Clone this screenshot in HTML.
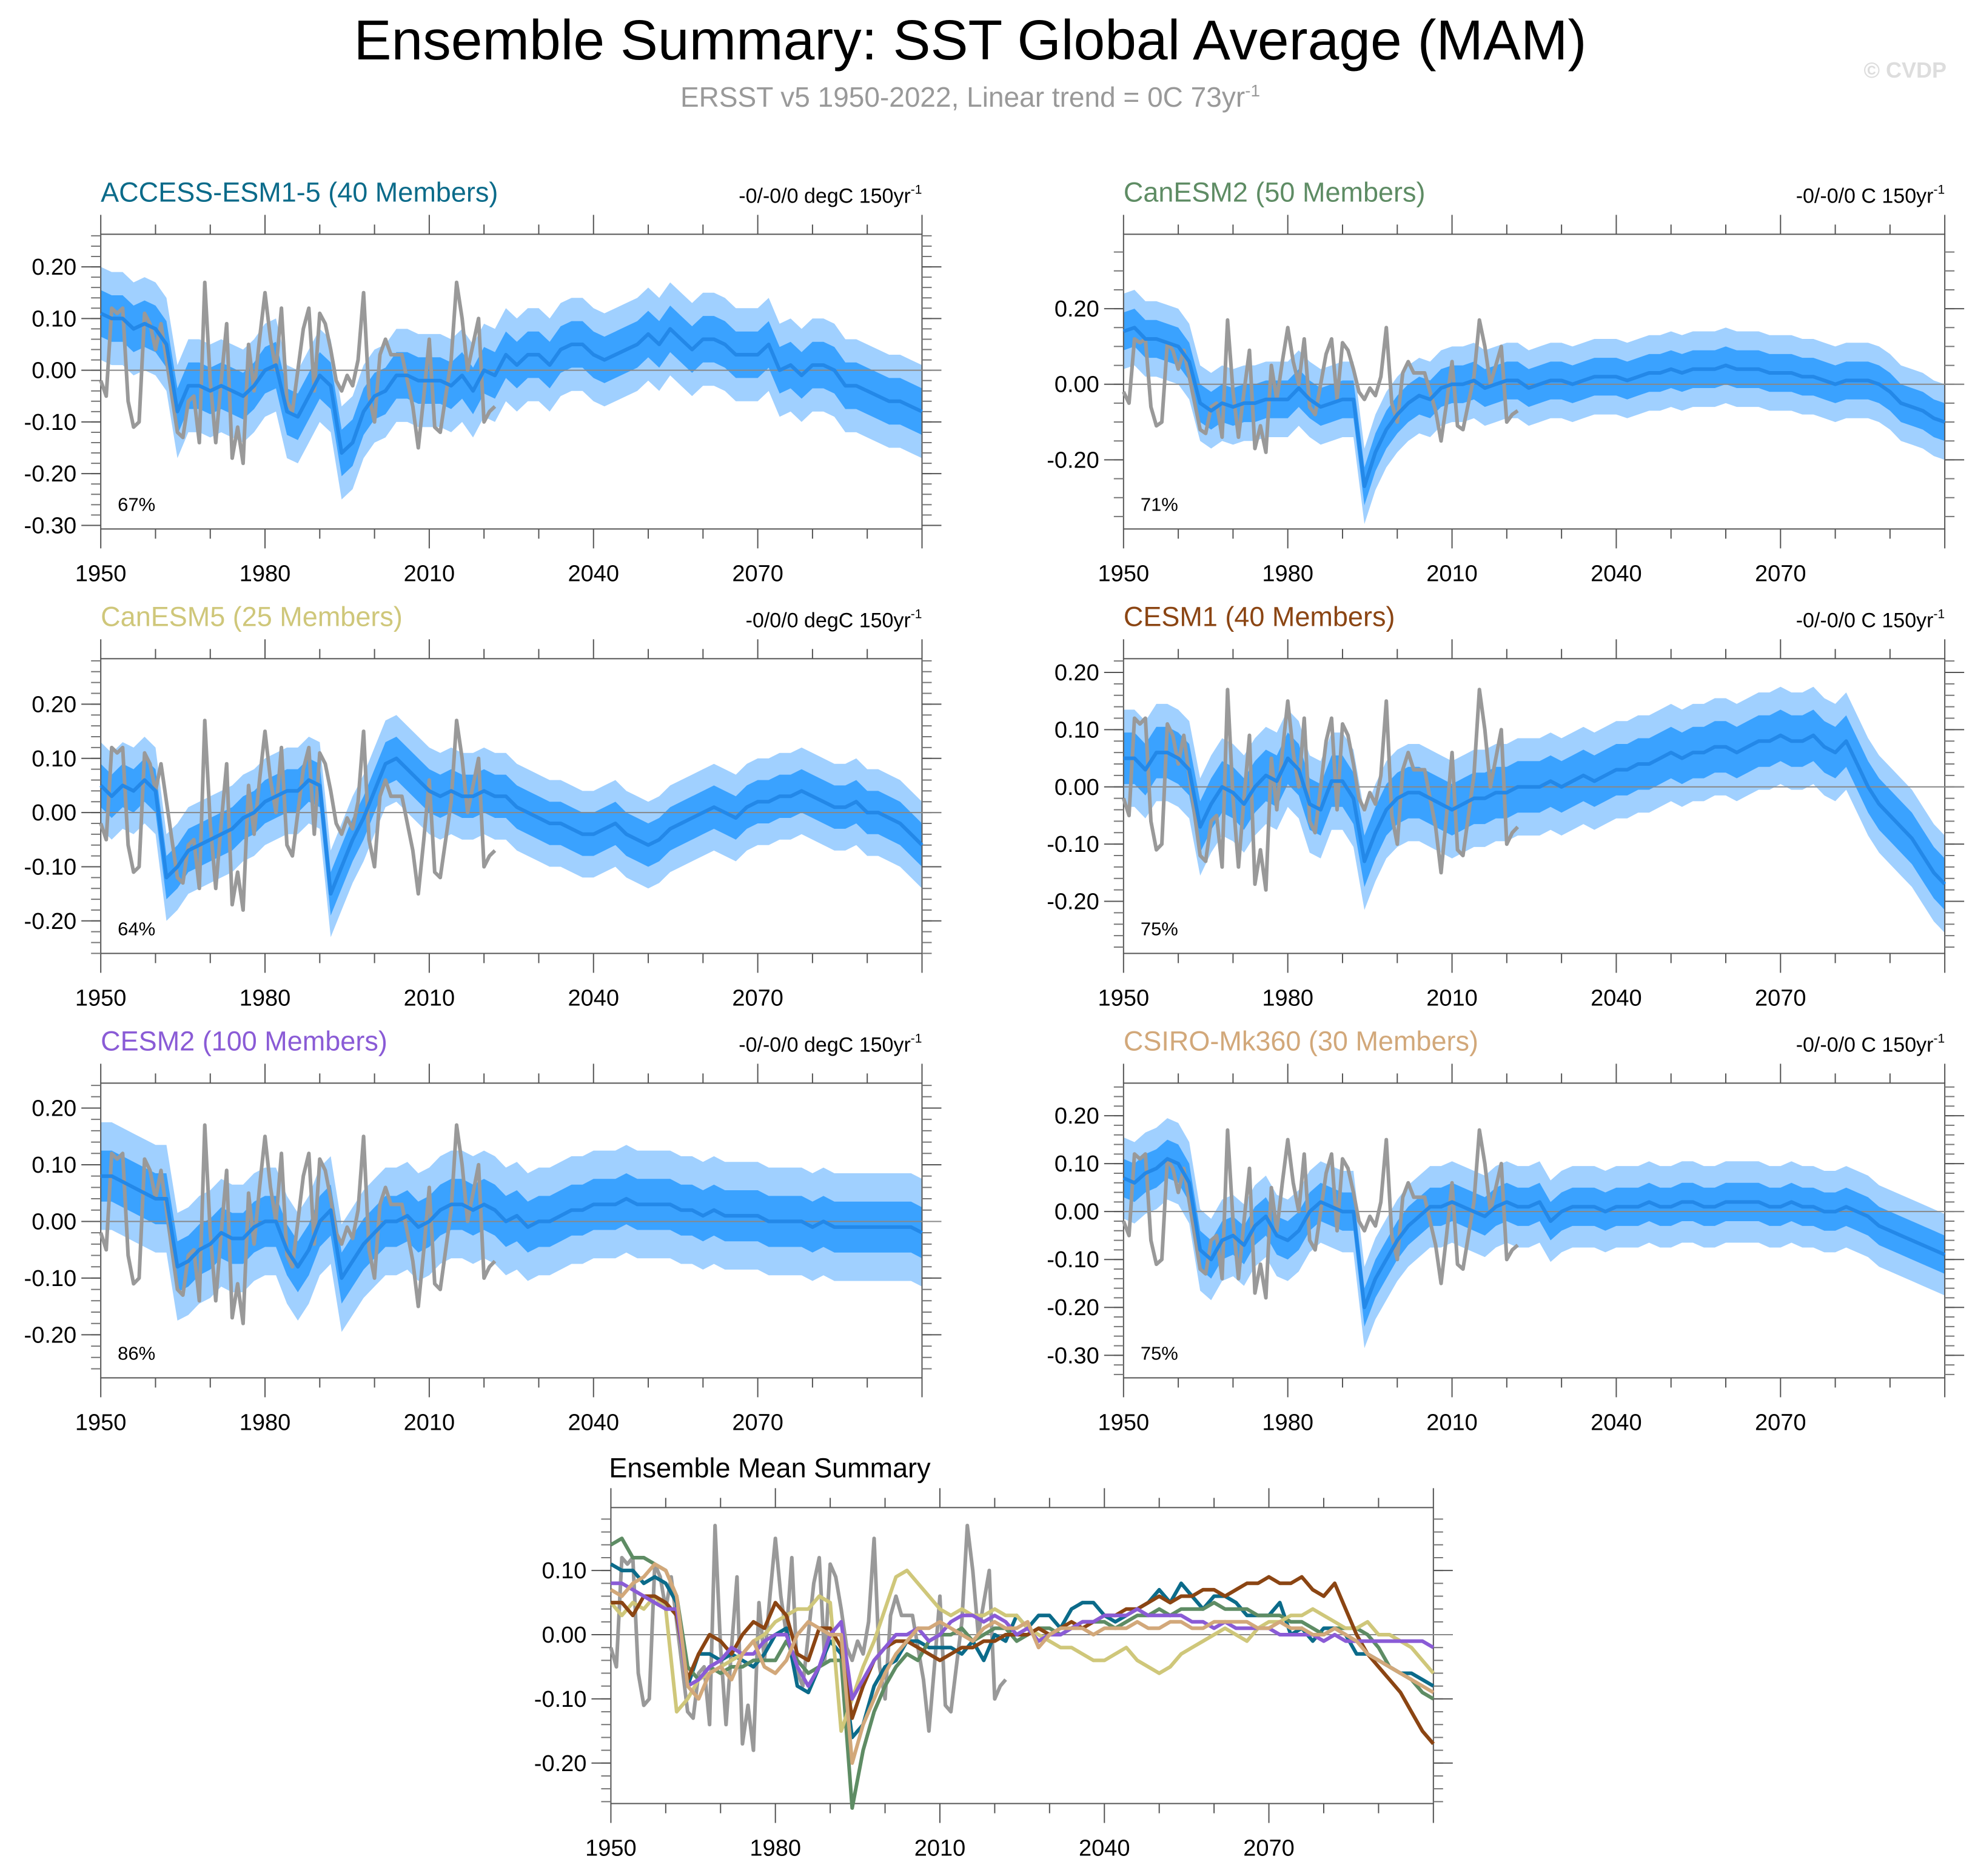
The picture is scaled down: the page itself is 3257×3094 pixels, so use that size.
<!DOCTYPE html>
<html><head><meta charset="utf-8"><style>
html,body{margin:0;padding:0;background:#fff;}
svg{display:block;font-family:"Liberation Sans",sans-serif;}
</style></head><body>
<svg id="chart" width="3257" height="3094" viewBox="0 0 3257 3094" xmlns="http://www.w3.org/2000/svg">
<text x="1600" y="98" font-size="93" text-anchor="middle" fill="#000">Ensemble Summary: SST Global Average (MAM)</text>
<text x="1600" y="176" font-size="46" text-anchor="middle" fill="#999">ERSST v5 1950-2022, Linear trend = 0C 73yr<tspan dy="-17" font-size="28">-1</tspan></text>
<text x="3210" y="128" font-size="36" font-weight="bold" text-anchor="end" fill="#ddd">© CVDP</text>
<g id="plots"></g>
</svg>
<script>
const years0 = 1950, years1 = 2100;
const obsValues = [-0.02,-0.05,0.12,0.11,0.12,-0.06,-0.11,-0.10,0.11,0.09,0.04,0.09,0.02,-0.05,-0.12,-0.13,-0.06,-0.05,-0.14,0.17,-0.02,-0.14,-0.02,0.09,-0.17,-0.11,-0.18,0.05,-0.04,0.06,0.15,0.06,0.00,0.12,-0.06,-0.08,0.00,0.08,0.12,-0.04,0.11,0.09,0.04,-0.02,-0.04,-0.01,-0.03,0.02,0.15,-0.05,-0.10,0.03,0.06,0.03,0.03,0.03,-0.02,-0.07,-0.15,-0.05,0.06,-0.11,-0.12,-0.05,0.02,0.17,0.10,0.00,0.05,0.10,-0.10,-0.08,-0.07];
const meanAccess = [0.11,0.10,0.10,0.08,0.09,0.08,0.05,-0.08,-0.03,-0.03,-0.04,-0.03,-0.04,-0.05,-0.03,0.00,0.01,-0.08,-0.09,-0.05,-0.01,-0.03,-0.16,-0.14,-0.08,-0.05,-0.04,-0.01,-0.01,-0.02,-0.02,-0.02,-0.03,-0.01,-0.04,0.00,-0.01,0.03,0.01,0.03,0.03,0.01,0.04,0.05,0.05,0.03,0.02,0.03,0.04,0.05,0.07,0.05,0.08,0.06,0.04,0.06,0.06,0.05,0.03,0.03,0.03,0.05,0.00,0.01,-0.01,0.01,0.01,0.00,-0.03,-0.03,-0.04,-0.05,-0.06,-0.06,-0.07,-0.08];
const meanCanESM2 = [0.14,0.15,0.12,0.12,0.11,0.10,0.06,-0.05,-0.07,-0.05,-0.06,-0.05,-0.05,-0.04,-0.04,-0.04,-0.01,-0.04,-0.06,-0.05,-0.04,-0.04,-0.27,-0.18,-0.12,-0.08,-0.05,-0.03,-0.04,-0.01,0.00,0.00,0.01,-0.01,0.00,0.01,0.01,-0.01,0.00,0.01,0.01,0.00,0.01,0.02,0.02,0.02,0.01,0.02,0.03,0.03,0.04,0.03,0.04,0.04,0.04,0.05,0.04,0.04,0.04,0.03,0.03,0.03,0.02,0.02,0.01,0.00,0.01,0.01,0.01,0.00,-0.02,-0.05,-0.06,-0.07,-0.09,-0.10];
const meanCanESM5 = [0.05,0.03,0.05,0.04,0.06,0.04,-0.12,-0.10,-0.07,-0.06,-0.05,-0.04,-0.03,-0.01,0.00,0.02,0.03,0.04,0.04,0.06,0.05,-0.15,-0.10,-0.05,-0.01,0.04,0.09,0.10,0.08,0.06,0.04,0.03,0.04,0.03,0.03,0.04,0.03,0.03,0.01,0.00,-0.01,-0.02,-0.02,-0.03,-0.04,-0.04,-0.03,-0.02,-0.04,-0.05,-0.06,-0.05,-0.03,-0.02,-0.01,0.00,0.01,0.00,-0.01,0.01,0.02,0.02,0.03,0.03,0.04,0.03,0.02,0.01,0.01,0.02,0.00,0.00,-0.01,-0.02,-0.04,-0.06];
const meanCESM1 = [0.05,0.05,0.03,0.06,0.06,0.05,0.03,-0.07,-0.03,0.00,-0.01,-0.03,0.00,0.02,0.01,0.05,0.03,-0.03,-0.04,0.01,0.01,-0.02,-0.13,-0.08,-0.04,-0.02,-0.01,-0.01,-0.02,-0.03,-0.04,-0.03,-0.02,-0.02,-0.01,-0.01,0.00,0.00,0.00,0.01,0.00,0.01,0.02,0.01,0.02,0.03,0.03,0.04,0.04,0.05,0.06,0.05,0.06,0.06,0.07,0.07,0.06,0.07,0.08,0.08,0.09,0.08,0.08,0.09,0.07,0.06,0.08,0.04,0.00,-0.03,-0.05,-0.07,-0.09,-0.12,-0.15,-0.17];
const meanCESM2 = [0.08,0.08,0.07,0.06,0.05,0.04,0.04,-0.08,-0.07,-0.05,-0.04,-0.02,-0.03,-0.03,-0.01,0.00,0.00,-0.05,-0.08,-0.05,0.00,0.02,-0.10,-0.07,-0.04,-0.02,0.00,0.00,0.01,-0.01,0.00,0.02,0.03,0.03,0.02,0.03,0.02,0.00,0.01,-0.01,0.00,0.00,0.01,0.02,0.02,0.03,0.03,0.03,0.04,0.03,0.03,0.03,0.03,0.02,0.02,0.01,0.02,0.01,0.01,0.01,0.01,0.00,0.00,0.00,0.00,-0.01,0.00,-0.01,-0.01,-0.01,-0.01,-0.01,-0.01,-0.01,-0.01,-0.02];
const meanCSIRO = [0.07,0.06,0.08,0.09,0.11,0.10,0.06,-0.08,-0.10,-0.06,-0.05,-0.07,-0.03,-0.01,-0.05,-0.06,-0.04,0.00,0.02,0.01,0.00,0.00,-0.20,-0.14,-0.10,-0.06,-0.03,-0.01,0.01,0.01,0.02,0.01,0.00,-0.01,0.01,0.02,0.01,0.01,0.02,-0.02,0.00,0.01,0.01,0.01,0.00,0.01,0.01,0.01,0.02,0.01,0.01,0.02,0.02,0.01,0.01,0.02,0.02,0.02,0.02,0.01,0.01,0.02,0.01,0.01,0.00,0.00,0.01,0.00,-0.01,-0.03,-0.04,-0.05,-0.06,-0.07,-0.08,-0.09];
const innerSpread = [0.045,0.05,0.04,0.045,0.045,0.04];
const outerSpread = [0.09,0.10,0.08,0.085,0.095,0.085];
const modelNames = ["ACCESS-ESM1-5 (40 Members)","CanESM2 (50 Members)","CanESM5 (25 Members)","CESM1 (40 Members)","CESM2 (100 Members)","CSIRO-Mk360 (30 Members)"];
const modelColors = ["#0b6b8a","#5e8c64","#cfc77a","#8b4513","#8a5bd6","#d2a87a"];
const trendLabels = ["-0/-0/0 degC 150yr","-0/-0/0 C 150yr","-0/0/0 degC 150yr","-0/-0/0 C 150yr","-0/-0/0 degC 150yr","-0/-0/0 C 150yr"];
const pctLabels = ["67%","71%","64%","75%","86%","75%"];
const yTickLabels = [[0.2,0.1,0,-0.1,-0.2,-0.3],[0.2,0,-0.2],[0.2,0.1,0,-0.1,-0.2],[0.2,0.1,0,-0.1,-0.2],[0.2,0.1,0,-0.1,-0.2],[0.2,0.1,0,-0.1,-0.2,-0.3]];
const yRanges = [[-0.307,0.263],[-0.383,0.397],[-0.26,0.284],[-0.291,0.224],[-0.276,0.244],[-0.347,0.268]];
const xTickYears = [1950,1980,2010,2040,2070];
const means = [meanAccess,meanCanESM2,meanCanESM5,meanCESM1,meanCESM2,meanCSIRO];

const S = 3257/1568;
const NS = "http://www.w3.org/2000/svg";
const root = document.getElementById("plots");
function mk(tag, attrs, parent){const e=document.createElementNS(NS,tag);for(const k in attrs)e.setAttribute(k,attrs[k]);(parent||root).appendChild(e);return e;}

function drawPanel(fx0,fy0,fx1,fy1,yr,ticks,minorStep,name){
  const x0=fx0*S,x1=fx1*S,y0=fy0*S,y1=fy1*S;
  const g=mk("g",{});
  
  
  const xs=y=>x0+(y-years0)/(years1-years0)*(x1-x0);
  const ys=v=>y1-(v-yr[0])/(yr[1]-yr[0])*(y1-y0);
  return {g,x0,x1,y0,y1,xs,ys,yr,ticks,minorStep};
}
function seriesX(n,i){return years0+i*(years1-years0)/(n-1);}
function drawAxes(p){
  const {g,x0,x1,y0,y1,xs,ys}=p;
  mk("rect",{x:x0,y:y0,width:x1-x0,height:y1-y0,fill:"none",stroke:"#555","stroke-width":2},g);
  for(let yv=1950;yv<=2100;yv+=10){
    const maj=(yv-1950)%30===0, L=maj?32:16, X=xs(yv);
    mk("line",{x1:X,y1:y0,x2:X,y2:y0-L,stroke:"#555","stroke-width":2},g);
    mk("line",{x1:X,y1:y1,x2:X,y2:y1+L,stroke:"#555","stroke-width":2},g);
  }
  xTickYears.forEach(yv=>{
    const t=mk("text",{x:xs(yv),y:y1+86,"font-size":38,"text-anchor":"middle",fill:"#000"},g);
    t.textContent=yv;
    
    
  });
  const lo=Math.ceil(p.yr[0]/p.minorStep-1e-6),hi=Math.floor(p.yr[1]/p.minorStep+1e-6);
  for(let k=lo;k<=hi;k++){
    const v=k*p.minorStep,Y=ys(v);
    mk("line",{x1:x0,y1:Y,x2:x0-16,y2:Y,stroke:"#777","stroke-width":2},g);
    mk("line",{x1:x1,y1:Y,x2:x1+16,y2:Y,stroke:"#777","stroke-width":2},g);
  }
  p.ticks.forEach(v=>{
    const Y=ys(v);
    mk("line",{x1:x0,y1:Y,x2:x0-32,y2:Y,stroke:"#555","stroke-width":2},g);
    mk("line",{x1:x1,y1:Y,x2:x1+32,y2:Y,stroke:"#555","stroke-width":2},g);
    const t=mk("text",{x:x0-40,y:Y+13,"font-size":38,"text-anchor":"end",fill:"#000"},g);
    t.textContent=v.toFixed(2);
    
    
  });
  mk("line",{x1:x0,y1:ys(0),x2:x1+32,y2:ys(0),stroke:"#888","stroke-width":2},g);
}
function linePath(p,arr,xf){
  return arr.map((v,i)=>(i?"L":"M")+p.xs(xf(arr.length,i)).toFixed(1)+","+p.ys(v).toFixed(1)).join("");
}
function bandPath(p,arr,w){
  let d="";
  arr.forEach((v,i)=>{d+=(i?"L":"M")+p.xs(seriesX(arr.length,i)).toFixed(1)+","+p.ys(v+w).toFixed(1);});
  for(let i=arr.length-1;i>=0;i--){d+="L"+p.xs(seriesX(arr.length,i)).toFixed(1)+","+p.ys(arr[i]-w).toFixed(1);}
  return d+"Z";
}
const obsX=(n,i)=>1950+i;

const frames=[[80,186,732,420],[892,186,1544,420],[80,523,732,757],[892,523,1544,757],[80,860,732,1094],[892,860,1544,1094]];
const panelNames=["access-esm1-5-panel","canesm2-panel","canesm5-panel","cesm1-panel","cesm2-panel","csiro-mk360-panel"];
frames.forEach((f,k)=>{
  const p=drawPanel(f[0],f[1],f[2],f[3],yRanges[k],yTickLabels[k],k===1?0.05:0.02,panelNames[k]);
  const g=p.g;
  const o=mk("path",{d:bandPath(p,means[k],outerSpread[k]),fill:"#a0d0ff"},g);
  
  
  const inn=mk("path",{d:bandPath(p,means[k],innerSpread[k]),fill:"#3aa2ff"},g);
  
  
  drawAxes(p);
  const ob=mk("path",{d:linePath(p,obsValues,obsX),fill:"none",stroke:"#999","stroke-width":6,"stroke-linejoin":"round"},g);
  
  
  const m=mk("path",{d:linePath(p,means[k],seriesX),fill:"none",stroke:"#2388e8","stroke-width":6,"stroke-linejoin":"round"},g);
  
  
  const t=mk("text",{x:p.x0,y:f[1]*S-54,"font-size":45,fill:modelColors[k]},g);
  t.textContent=modelNames[k];
  
  
  const r=mk("text",{x:p.x1,y:f[1]*S-52,"font-size":34,"text-anchor":"end",fill:"#000"},g);
  r.textContent=trendLabels[k];
  const sup=mk("tspan",{dy:-15,"font-size":21},r);sup.textContent="-1";
  
  
  const pc=mk("text",{x:p.x0+28,y:p.y1-30,"font-size":31,fill:"#000"},g);
  pc.textContent=pctLabels[k];
  
  
});
const pb=drawPanel(485,1197,1138,1432,[-0.263,0.198],[0.1,0,-0.1,-0.2],0.02,"ensemble-mean-summary-panel");
drawAxes(pb);
const bo=mk("path",{d:linePath(pb,obsValues,obsX),fill:"none",stroke:"#999","stroke-width":6,"stroke-linejoin":"round"},pb.g);


means.forEach((arr,k)=>{
  const l=mk("path",{d:linePath(pb,arr,seriesX),fill:"none",stroke:modelColors[k],"stroke-width":6,"stroke-linejoin":"round"},pb.g);
  
  
});
const bt=mk("text",{x:pb.x0-3,y:1173*S,"font-size":45,fill:"#000"},pb.g);
bt.textContent="Ensemble Mean Summary";


</script>
</body></html>
